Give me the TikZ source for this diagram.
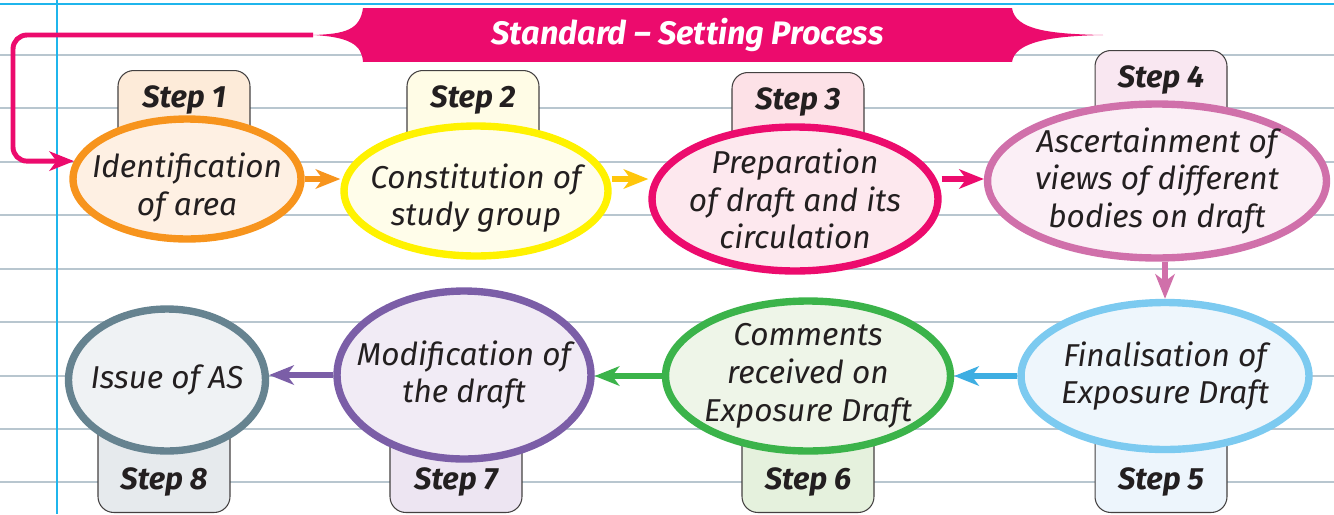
\documentclass[tikz,border=0pt]{standalone}
\usepackage[dvipsnames]{xcolor}
\usepackage{fontspec}
\setmainfont{Fira Sans}
\usetikzlibrary{shapes.geometric,arrows.meta}

\definecolor{ruleline}{HTML}{B8C6CF}
\definecolor{marginblue}{HTML}{1FB5EC}
\definecolor{bannerpink}{HTML}{EC0B6D}
\definecolor{inkblack}{HTML}{231F20}
\definecolor{orangeB}{HTML}{F7941D}\definecolor{orangeF}{HTML}{FEF0E3}\definecolor{orangeT}{HTML}{FDEBD9}
\definecolor{yellowB}{HTML}{FFF200}\definecolor{yellowF}{HTML}{FFFDEA}\definecolor{yellowT}{HTML}{FFFCE6}\definecolor{yellowA}{HTML}{FFC60B}
\definecolor{pinkF}{HTML}{FDE8EE}\definecolor{pinkT}{HTML}{FDE1E7}
\definecolor{orchidB}{HTML}{D070AA}\definecolor{orchidF}{HTML}{FBEFF6}\definecolor{orchidT}{HTML}{F9E7F1}
\definecolor{skyB}{HTML}{7CCAF0}\definecolor{skyF}{HTML}{EEF6FC}\definecolor{skyT}{HTML}{EDF5FC}\definecolor{skyA}{HTML}{3EAEE2}
\definecolor{greenB}{HTML}{3BB34A}\definecolor{greenF}{HTML}{EEF5E8}\definecolor{greenT}{HTML}{E5F1DD}
\definecolor{purpleB}{HTML}{7B5EA7}\definecolor{purpleF}{HTML}{F1EBF5}\definecolor{purpleT}{HTML}{EDE5F2}
\definecolor{slateB}{HTML}{668390}\definecolor{slateF}{HTML}{EFF2F4}\definecolor{slateT}{HTML}{E6EAED}

\pgfdeclarelayer{bg}
\pgfsetlayers{bg,main}

\begin{document}
\begin{tikzpicture}[x=0.02cm, y=-0.02cm,
  stepell/.style={ellipse, line width=4.2pt, inner sep=0pt},
  steptxt/.style={font=\fontsize{18}{21.5}\selectfont\itshape, align=center, text=inkblack},
  tabbox/.style={draw=inkblack!85, line width=0.6pt, rounded corners=9pt, minimum width=2.64cm, inner sep=0pt,
    text=inkblack, font=\fontsize{17.5}{20}\selectfont\bfseries\itshape},
  toptab/.style={tabbox, anchor=north, text height=21pt, text depth=24pt},
  bottab/.style={tabbox, anchor=south, text height=51pt, text depth=13pt},
  flow/.style={line width=3.5pt, -{Stealth[length=14pt,width=11pt,inset=4pt]}}
]
\useasboundingbox (0,0) rectangle (1334,514);

% notebook page
\begin{pgfonlayer}{bg}
\foreach \y in {55,108,162,215,269,322,376,429,482}
	\draw[ruleline, line width=1pt] (0,\y) -- (1334,\y);
\draw[marginblue, line width=1.2pt] (0,4) -- (1334,4);
\draw[marginblue, line width=1.6pt] (57,0) -- (57,514);
\end{pgfonlayer}

% title banner
\fill[bannerpink] (363,8) .. controls (360,30) and (345,34) .. (313,35)
	.. controls (350,37) and (362,45) .. (363,62) -- cycle;
\fill[bannerpink] (1012,8) .. controls (1015,30) and (1050,34) .. (1103,35)
	.. controls (1050,36) and (1015,42) .. (1012,62) -- cycle;
\node[fill=bannerpink, text=white, minimum width=12.98cm, minimum height=1.08cm, inner sep=0pt,
	font=\fontsize{18.5}{21}\selectfont\bfseries\itshape] (ttl) at (687.5,35) {Standard -- Setting Process};
\coordinate (flareL) at (313,35);
\coordinate (bend) at (13,0);

% tabs
\node[toptab, fill=orangeT] (s1) at (184,70) {Step 1};
\node[toptab, fill=yellowT] (s2) at (473,70) {Step 2};
\node[toptab, fill=pinkT] (s3) at (798,72) {Step 3};
\node[toptab, fill=orchidT] (s4) at (1161,50) {Step 4};
\node[bottab, fill=skyT] (s5) at (1161,513) {Step 5};
\node[bottab, fill=greenT] (s6) at (808,513) {Step 6};
\node[bottab, fill=purpleT] (s7) at (456,513) {Step 7};
\node[bottab, fill=slateT] (s8) at (164,513) {Step 8};

% steps
\node[stepell, draw=orangeB, fill=orangeF, minimum width=4.56cm, minimum height=2.4cm,
	label={[steptxt, yshift=-5pt]center:Identification\\of area}] (e1) at (187,179) {};
\node[stepell, draw=yellowB, fill=yellowF, minimum width=5.28cm, minimum height=2.6cm,
	label={[steptxt, yshift=-4pt]center:Constitution of\\study group}] (e2) at (476,191) {};
\node[stepell, draw=bannerpink, fill=pinkF, minimum width=5.72cm, minimum height=2.88cm,
	label={[steptxt]center:Preparation\\of draft and its\\circulation}] (e3) at (795,199) {};
\node[stepell, draw=orchidB, fill=orchidF, minimum width=6.78cm, minimum height=3.08cm,
	label={[steptxt]center:Ascertainment of\\views of different\\bodies on draft}] (e4) at (1157,181) {};
\node[stepell, draw=skyB, fill=skyF, minimum width=5.76cm, minimum height=2.94cm,
	label={[steptxt]center:Finalisation of\\Exposure Draft}] (e5) at (1165,376) {};
\node[stepell, draw=greenB, fill=greenF, minimum width=5.7cm, minimum height=3cm,
	label={[steptxt]center:Comments\\received on\\Exposure Draft}] (e6) at (808,376) {};
\node[stepell, draw=purpleB, fill=purpleF, minimum width=5.08cm, minimum height=3.36cm,
	label={[steptxt]center:Modification of\\the draft}] (e7) at (464,375) {};
\node[stepell, draw=slateB, fill=slateF, minimum width=3.94cm, minimum height=2.84cm,
	label={[steptxt]center:Issue of AS}] (e8) at (167,380) {};

% connectors
\begin{pgfonlayer}{bg}
\draw[bannerpink, line width=2.8pt, rounded corners=8pt, -{Stealth[length=14pt,width=11pt,inset=4pt]}]
	(flareL) -| (bend |- e1.171) -- (e1.171);
\draw[flow, orangeB] (e1.east) -- (e1.east -| e2.west);
\draw[flow, yellowA] (e2.east |- e1.east) -- (e1.east -| e3.west);
\draw[flow, bannerpink] (e3.east |- e1.east) -- (e1.east -| e4.west);
\draw[flow, orchidB] (e5.north |- e4.south) -- (e5.north);
\draw[flow, skyA] (e5.west) -- (e5.west -| e6.east);
\draw[flow, greenB] (e6.west) -- (e6.west -| e7.east);
\draw[flow, purpleB] (e7.west) -- (e7.west -| e8.east);
\end{pgfonlayer}

\end{tikzpicture}
\end{document}
